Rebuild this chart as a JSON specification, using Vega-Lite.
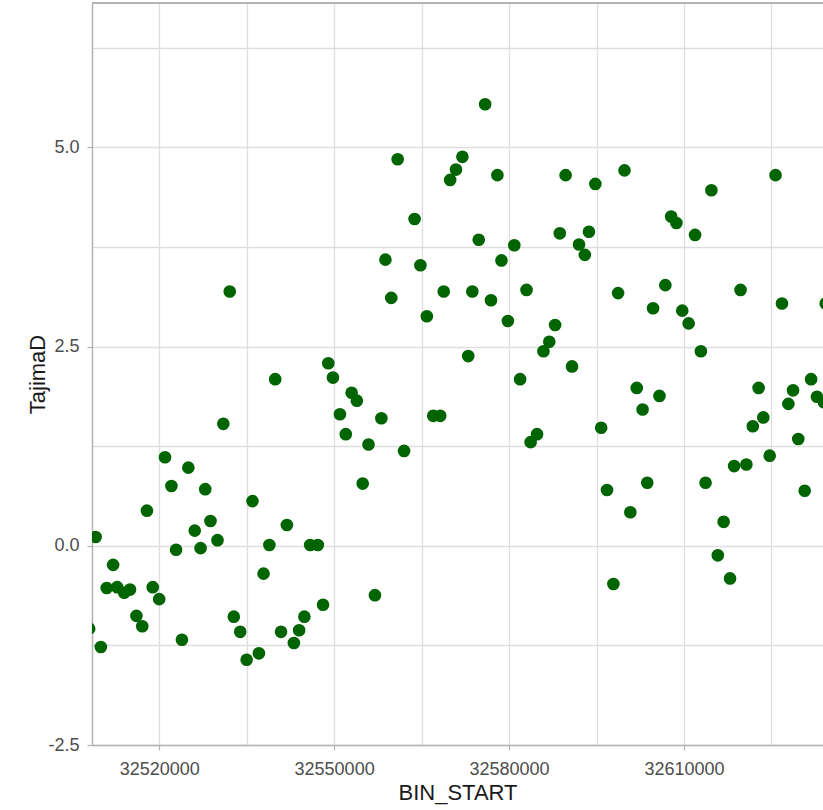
{
  "$schema": "https://vega.github.io/schema/vega-lite/v6.json",
  "autosize": {"type": "none"},
  "width": 731,
  "height": 742,
  "padding": {"left": 92, "top": 3, "right": 0, "bottom": 65},
  "background": "white",
  "config": {
    "view": {"stroke": null},
    "font": "Liberation Sans",
    "axis": {
      "labelFont": "Liberation Sans",
      "titleFont": "Liberation Sans",
      "labelColor": "#4d4d4d",
      "labelFontSize": 18,
      "titleFontSize": 22,
      "titleFontWeight": "normal",
      "titleColor": "#1a1a1a",
      "grid": true,
      "gridColor": "#dedede",
      "gridWidth": 1.3,
      "domainColor": "#b3b3b3",
      "domainWidth": 1.5,
      "tickColor": "#b3b3b3",
      "tickWidth": 1.2,
      "tickSize": 5,
      "labelOverlap": false,
      "labelFlush": false,
      "labelBound": false
    }
  },
  "data": {
    "values": [
      {"BIN_START": 32508000, "TajimaD": -1.04},
      {"BIN_START": 32509100, "TajimaD": 0.11},
      {"BIN_START": 32510000, "TajimaD": -1.27},
      {"BIN_START": 32511000, "TajimaD": -0.53},
      {"BIN_START": 32512100, "TajimaD": -0.24},
      {"BIN_START": 32512800, "TajimaD": -0.52},
      {"BIN_START": 32514000, "TajimaD": -0.59},
      {"BIN_START": 32515000, "TajimaD": -0.55},
      {"BIN_START": 32516100, "TajimaD": -0.88},
      {"BIN_START": 32517100, "TajimaD": -1.01},
      {"BIN_START": 32517900, "TajimaD": 0.44},
      {"BIN_START": 32518900, "TajimaD": -0.52},
      {"BIN_START": 32520000, "TajimaD": -0.67},
      {"BIN_START": 32521000, "TajimaD": 1.11},
      {"BIN_START": 32522100, "TajimaD": 0.75},
      {"BIN_START": 32522900, "TajimaD": -0.05},
      {"BIN_START": 32523900, "TajimaD": -1.18},
      {"BIN_START": 32525000, "TajimaD": 0.98},
      {"BIN_START": 32526100, "TajimaD": 0.19},
      {"BIN_START": 32527100, "TajimaD": -0.03},
      {"BIN_START": 32527900, "TajimaD": 0.71},
      {"BIN_START": 32528800, "TajimaD": 0.31},
      {"BIN_START": 32530000, "TajimaD": 0.07},
      {"BIN_START": 32531000, "TajimaD": 1.53},
      {"BIN_START": 32532100, "TajimaD": 3.19},
      {"BIN_START": 32532800, "TajimaD": -0.89},
      {"BIN_START": 32533900, "TajimaD": -1.08},
      {"BIN_START": 32535000, "TajimaD": -1.43},
      {"BIN_START": 32536000, "TajimaD": 0.56},
      {"BIN_START": 32537100, "TajimaD": -1.35},
      {"BIN_START": 32537900, "TajimaD": -0.35},
      {"BIN_START": 32538900, "TajimaD": 0.01},
      {"BIN_START": 32539900, "TajimaD": 2.09},
      {"BIN_START": 32540900, "TajimaD": -1.08},
      {"BIN_START": 32541900, "TajimaD": 0.26},
      {"BIN_START": 32543100, "TajimaD": -1.22},
      {"BIN_START": 32544000, "TajimaD": -1.06},
      {"BIN_START": 32544900, "TajimaD": -0.89},
      {"BIN_START": 32545900, "TajimaD": 0.01},
      {"BIN_START": 32547200, "TajimaD": 0.01},
      {"BIN_START": 32548100, "TajimaD": -0.74},
      {"BIN_START": 32549000, "TajimaD": 2.29},
      {"BIN_START": 32549800, "TajimaD": 2.11},
      {"BIN_START": 32551000, "TajimaD": 1.65},
      {"BIN_START": 32552000, "TajimaD": 1.40},
      {"BIN_START": 32553000, "TajimaD": 1.92},
      {"BIN_START": 32553900, "TajimaD": 1.82},
      {"BIN_START": 32554900, "TajimaD": 0.78},
      {"BIN_START": 32555900, "TajimaD": 1.27},
      {"BIN_START": 32557000, "TajimaD": -0.62},
      {"BIN_START": 32558100, "TajimaD": 1.60},
      {"BIN_START": 32558800, "TajimaD": 3.59},
      {"BIN_START": 32559800, "TajimaD": 3.11},
      {"BIN_START": 32560900, "TajimaD": 4.85},
      {"BIN_START": 32562000, "TajimaD": 1.19},
      {"BIN_START": 32563800, "TajimaD": 4.10},
      {"BIN_START": 32564800, "TajimaD": 3.52},
      {"BIN_START": 32565900, "TajimaD": 2.88},
      {"BIN_START": 32567000, "TajimaD": 1.63},
      {"BIN_START": 32568200, "TajimaD": 1.63},
      {"BIN_START": 32568800, "TajimaD": 3.19},
      {"BIN_START": 32569900, "TajimaD": 4.59},
      {"BIN_START": 32570900, "TajimaD": 4.72},
      {"BIN_START": 32572000, "TajimaD": 4.88},
      {"BIN_START": 32573000, "TajimaD": 2.38},
      {"BIN_START": 32573700, "TajimaD": 3.19},
      {"BIN_START": 32574800, "TajimaD": 3.84},
      {"BIN_START": 32575900, "TajimaD": 5.54},
      {"BIN_START": 32576900, "TajimaD": 3.08},
      {"BIN_START": 32578000, "TajimaD": 4.65},
      {"BIN_START": 32578700, "TajimaD": 3.58},
      {"BIN_START": 32579800, "TajimaD": 2.82},
      {"BIN_START": 32580900, "TajimaD": 3.77},
      {"BIN_START": 32581900, "TajimaD": 2.09},
      {"BIN_START": 32583000, "TajimaD": 3.21},
      {"BIN_START": 32583700, "TajimaD": 1.30},
      {"BIN_START": 32584800, "TajimaD": 1.40},
      {"BIN_START": 32585900, "TajimaD": 2.44},
      {"BIN_START": 32586900, "TajimaD": 2.56},
      {"BIN_START": 32587900, "TajimaD": 2.77},
      {"BIN_START": 32588700, "TajimaD": 3.92},
      {"BIN_START": 32589700, "TajimaD": 4.65},
      {"BIN_START": 32590800, "TajimaD": 2.25},
      {"BIN_START": 32592000, "TajimaD": 3.78},
      {"BIN_START": 32593000, "TajimaD": 3.65},
      {"BIN_START": 32593700, "TajimaD": 3.94},
      {"BIN_START": 32594800, "TajimaD": 4.54},
      {"BIN_START": 32595800, "TajimaD": 1.48},
      {"BIN_START": 32596800, "TajimaD": 0.70},
      {"BIN_START": 32597900, "TajimaD": -0.48},
      {"BIN_START": 32598700, "TajimaD": 3.17},
      {"BIN_START": 32599800, "TajimaD": 4.71},
      {"BIN_START": 32600800, "TajimaD": 0.42},
      {"BIN_START": 32601900, "TajimaD": 1.98},
      {"BIN_START": 32602900, "TajimaD": 1.71},
      {"BIN_START": 32603700, "TajimaD": 0.79},
      {"BIN_START": 32604700, "TajimaD": 2.98},
      {"BIN_START": 32605800, "TajimaD": 1.88},
      {"BIN_START": 32606800, "TajimaD": 3.27},
      {"BIN_START": 32607800, "TajimaD": 4.13},
      {"BIN_START": 32608700, "TajimaD": 4.05},
      {"BIN_START": 32609700, "TajimaD": 2.95},
      {"BIN_START": 32610800, "TajimaD": 2.79},
      {"BIN_START": 32611900, "TajimaD": 3.90},
      {"BIN_START": 32612900, "TajimaD": 2.44},
      {"BIN_START": 32613700, "TajimaD": 0.79},
      {"BIN_START": 32614700, "TajimaD": 4.46},
      {"BIN_START": 32615800, "TajimaD": -0.12},
      {"BIN_START": 32616800, "TajimaD": 0.30},
      {"BIN_START": 32617900, "TajimaD": -0.41},
      {"BIN_START": 32618600, "TajimaD": 1.00},
      {"BIN_START": 32619700, "TajimaD": 3.21},
      {"BIN_START": 32620700, "TajimaD": 1.02},
      {"BIN_START": 32621800, "TajimaD": 1.50},
      {"BIN_START": 32622800, "TajimaD": 1.98},
      {"BIN_START": 32623600, "TajimaD": 1.61},
      {"BIN_START": 32624700, "TajimaD": 1.13},
      {"BIN_START": 32625700, "TajimaD": 4.65},
      {"BIN_START": 32626800, "TajimaD": 3.04},
      {"BIN_START": 32627900, "TajimaD": 1.78},
      {"BIN_START": 32628700, "TajimaD": 1.95},
      {"BIN_START": 32629600, "TajimaD": 1.34},
      {"BIN_START": 32630700, "TajimaD": 0.69},
      {"BIN_START": 32631800, "TajimaD": 2.09},
      {"BIN_START": 32632800, "TajimaD": 1.87},
      {"BIN_START": 32634000, "TajimaD": 1.80},
      {"BIN_START": 32634300, "TajimaD": 3.04}
    ]
  },
  "layer": [
    {
      "mark": {"type": "point", "filled": true, "size": 160, "color": "#006400", "opacity": 1, "clip": true},
      "encoding": {
        "x": {
          "field": "BIN_START",
          "type": "quantitative",
          "title": "BIN_START",
          "scale": {"domain": [32508480, 32633840], "nice": false, "zero": false},
          "axis": {
            "grid": true,
            "values": [32520000, 32535000, 32550000, 32565000, 32580000, 32595000, 32610000, 32625000],
            "format": "d",
            "labelExpr": "datum.value % 30000 === 0 ? datum.label : ''",
            "tickOpacity": {"condition": {"test": "datum.value % 30000 === 0", "value": 1}, "value": 0},
            "labelPadding": 10,
            "titlePadding": 4
          }
        },
        "y": {
          "field": "TajimaD",
          "type": "quantitative",
          "title": "TajimaD",
          "scale": {"domain": [-2.5, 6.81], "nice": false, "zero": false},
          "axis": {
            "grid": true,
            "values": [-2.5, -1.25, 0, 1.25, 2.5, 3.75, 5, 6.25],
            "labelExpr": "datum.value === -2.5 ? '-2.5' : datum.value === 0 ? '0.0' : datum.value === 2.5 ? '2.5' : datum.value === 5 ? '5.0' : ''",
            "tickOpacity": {"condition": {"test": "datum.value % 2.5 === 0", "value": 1}, "value": 0},
            "labelPadding": 8,
            "titlePadding": -2
          }
        }
      }
    },
    {
      "mark": {"type": "rule", "color": "#b3b3b3", "strokeWidth": 1.5},
      "encoding": {"y": {"datum": 6.81, "type": "quantitative"}}
    }
  ]
}
